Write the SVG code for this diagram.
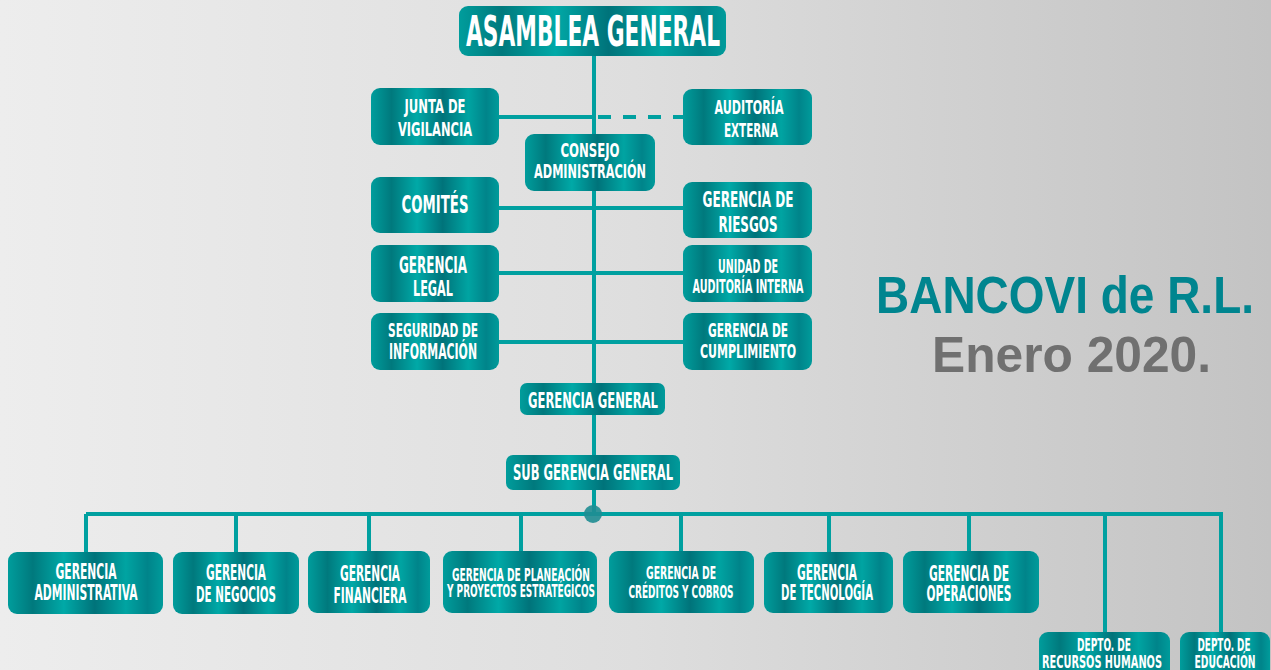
<svg xmlns="http://www.w3.org/2000/svg" width="1271" height="670" viewBox="0 0 1271 670">
<defs>
<linearGradient id="bg" x1="0" y1="0" x2="1" y2="0">
<stop offset="0" stop-color="#ededed"/><stop offset="0.5" stop-color="#dedede"/><stop offset="1" stop-color="#c3c3c3"/>
</linearGradient>
<linearGradient id="metal" x1="0" y1="0" x2="1" y2="0">
<stop offset="0" stop-color="#009d9c"/><stop offset="0.16" stop-color="#00797d"/><stop offset="0.36" stop-color="#00a9a7"/><stop offset="0.56" stop-color="#00737a"/><stop offset="0.76" stop-color="#00a4a2"/><stop offset="0.9" stop-color="#00848a"/><stop offset="1" stop-color="#009b9b"/>
</linearGradient>
<style>
.box{fill:url(#metal);}
.t{fill:#ffffff;font-family:"DejaVu Sans Condensed","Liberation Sans",sans-serif;font-weight:bold;text-anchor:middle;}
.ln{stroke:#00a0a0;stroke-width:4;fill:none;}
</style>
</defs>
<rect width="1271" height="670" fill="url(#bg)"/>

<g id="connectors">
<path class="ln" d="M594 56 V455 M594 490 V514"/>
<path class="ln" d="M499 117 H594"/>
<path class="ln" d="M598 117 H683" stroke-dasharray="13 12"/>
<path class="ln" d="M499 208 H683 M499 273 H683 M499 342 H683"/>
<path class="ln" d="M86 514 H1223"/>
<path class="ln" d="M86 514 V552 M236 514 V552 M369 514 V551 M521 514 V551 M681 514 V551 M829 514 V552 M969 514 V551 M1105 514 V632 M1221 514 V632"/>
<circle cx="593" cy="514" r="9" fill="#1f8d92" opacity="0.9"/>
</g>

<g id="asamblea"><rect class="box" x="459" y="6" width="267" height="50" rx="9"/><text class="t" transform="translate(593 46) scale(1 1.74)" font-size="24.1" textLength="254" lengthAdjust="spacingAndGlyphs">ASAMBLEA GENERAL</text></g>

<g id="junta"><rect class="box" x="371" y="88" width="128" height="57" rx="9"/><text class="t" transform="translate(435 113) scale(1 1.57)" font-size="12.7" textLength="61" lengthAdjust="spacingAndGlyphs">JUNTA DE</text><text class="t" transform="translate(435 136) scale(1 1.57)" font-size="12.7" textLength="74" lengthAdjust="spacingAndGlyphs">VIGILANCIA</text></g>

<g id="auditoria-externa"><rect class="box" x="683" y="89" width="129" height="56" rx="9"/><text class="t" transform="translate(749 114) scale(1 1.64)" font-size="12.2" textLength="69" lengthAdjust="spacingAndGlyphs">AUDITORÍA</text><text class="t" transform="translate(751 137) scale(1 1.74)" font-size="11.5" textLength="54" lengthAdjust="spacingAndGlyphs">EXTERNA</text></g>

<g id="consejo"><rect class="box" x="525" y="134" width="130" height="57" rx="9"/><text class="t" transform="translate(590 157) scale(1 1.55)" font-size="12.9" textLength="59" lengthAdjust="spacingAndGlyphs">CONSEJO</text><text class="t" transform="translate(590 178) scale(1 1.75)" font-size="11.4" textLength="112" lengthAdjust="spacingAndGlyphs">ADMINISTRACIÓN</text></g>

<g id="comites"><rect class="box" x="371" y="177" width="128" height="56" rx="9"/><text class="t" transform="translate(435 213) scale(1 1.7)" font-size="14.7" textLength="67" lengthAdjust="spacingAndGlyphs">COMITÉS</text></g>

<g id="riesgos"><rect class="box" x="683" y="182" width="129" height="56" rx="9"/><text class="t" transform="translate(748 207) scale(1 1.57)" font-size="13.4" textLength="91" lengthAdjust="spacingAndGlyphs">GERENCIA DE</text><text class="t" transform="translate(748 232) scale(1 1.67)" font-size="13.2" textLength="59" lengthAdjust="spacingAndGlyphs">RIESGOS</text></g>

<g id="legal"><rect class="box" x="371" y="245" width="128" height="57" rx="9"/><text class="t" transform="translate(433 273) scale(1 1.73)" font-size="13.3" textLength="68" lengthAdjust="spacingAndGlyphs">GERENCIA</text><text class="t" transform="translate(433 296) scale(1 1.76)" font-size="12.5" textLength="40" lengthAdjust="spacingAndGlyphs">LEGAL</text></g>

<g id="auditoria-interna"><rect class="box" x="683" y="245" width="129" height="57" rx="9"/><text class="t" transform="translate(748 273) scale(1 1.79)" font-size="10.6" textLength="60" lengthAdjust="spacingAndGlyphs">UNIDAD DE</text><text class="t" transform="translate(748 293) scale(1 1.79)" font-size="10.6" textLength="111" lengthAdjust="spacingAndGlyphs">AUDITORÍA INTERNA</text></g>

<g id="seguridad"><rect class="box" x="371" y="313" width="128" height="57" rx="9"/><text class="t" transform="translate(433 337) scale(1 1.61)" font-size="11.8" textLength="90" lengthAdjust="spacingAndGlyphs">SEGURIDAD DE</text><text class="t" transform="translate(433 359) scale(1 1.72)" font-size="12.2" textLength="88" lengthAdjust="spacingAndGlyphs">INFORMACIÓN</text></g>

<g id="cumplimiento"><rect class="box" x="683" y="313" width="129" height="57" rx="9"/><text class="t" transform="translate(748 337) scale(1 1.61)" font-size="11.8" textLength="80" lengthAdjust="spacingAndGlyphs">GERENCIA DE</text><text class="t" transform="translate(748 358) scale(1 1.64)" font-size="12.2" textLength="96" lengthAdjust="spacingAndGlyphs">CUMPLIMIENTO</text></g>

<g id="gerencia-general"><rect class="box" x="520" y="383" width="145" height="32" rx="7"/><text class="t" transform="translate(593 408) scale(1 1.64)" font-size="12.8" textLength="130" lengthAdjust="spacingAndGlyphs">GERENCIA GENERAL</text></g>

<g id="sub-gerencia"><rect class="box" x="506" y="455" width="174" height="35" rx="7"/><text class="t" transform="translate(593 480) scale(1 1.64)" font-size="12.8" textLength="160" lengthAdjust="spacingAndGlyphs">SUB GERENCIA GENERAL</text></g>

<g id="administrativa"><rect class="box" x="8" y="552" width="155" height="62" rx="9"/><text class="t" transform="translate(86 579) scale(1 1.76)" font-size="11.9" textLength="61" lengthAdjust="spacingAndGlyphs">GERENCIA</text><text class="t" transform="translate(86 600) scale(1 1.91)" font-size="11" textLength="103" lengthAdjust="spacingAndGlyphs">ADMINISTRATIVA</text></g>

<g id="negocios"><rect class="box" x="173" y="552" width="126" height="62" rx="9"/><text class="t" transform="translate(236 580) scale(1 1.79)" font-size="11.7" textLength="60" lengthAdjust="spacingAndGlyphs">GERENCIA</text><text class="t" transform="translate(236 602) scale(1 1.83)" font-size="11.5" textLength="80" lengthAdjust="spacingAndGlyphs">DE NEGOCIOS</text></g>

<g id="financiera"><rect class="box" x="308" y="551" width="122" height="62" rx="9"/><text class="t" transform="translate(370 581) scale(1 1.79)" font-size="11.7" textLength="60" lengthAdjust="spacingAndGlyphs">GERENCIA</text><text class="t" transform="translate(370 603) scale(1 1.83)" font-size="12" textLength="73" lengthAdjust="spacingAndGlyphs">FINANCIERA</text></g>

<g id="planeacion"><rect class="box" x="443" y="551" width="154" height="62" rx="9"/><text class="t" transform="translate(521 581) scale(1 1.78)" font-size="10.1" textLength="138" lengthAdjust="spacingAndGlyphs">GERENCIA DE PLANEACIÓN</text><text class="t" transform="translate(521 597) scale(1 1.73)" font-size="9.8" textLength="148" lengthAdjust="spacingAndGlyphs">Y PROYECTOS ESTRATÉGICOS</text></g>

<g id="creditos"><rect class="box" x="609" y="551" width="145" height="62" rx="9"/><text class="t" transform="translate(681 579) scale(1 1.65)" font-size="10.3" textLength="70" lengthAdjust="spacingAndGlyphs">GERENCIA DE</text><text class="t" transform="translate(681 598) scale(1 1.82)" font-size="9.9" textLength="105" lengthAdjust="spacingAndGlyphs">CRÉDITOS Y COBROS</text></g>

<g id="tecnologia"><rect class="box" x="764" y="552" width="129" height="61" rx="9"/><text class="t" transform="translate(827 580) scale(1 1.79)" font-size="11.7" textLength="60" lengthAdjust="spacingAndGlyphs">GERENCIA</text><text class="t" transform="translate(827 600) scale(1 1.88)" font-size="11.2" textLength="92" lengthAdjust="spacingAndGlyphs">DE TECNOLOGÍA</text></g>

<g id="operaciones"><rect class="box" x="903" y="551" width="136" height="62" rx="9"/><text class="t" transform="translate(969 581) scale(1 1.78)" font-size="11.8" textLength="80" lengthAdjust="spacingAndGlyphs">GERENCIA DE</text><text class="t" transform="translate(969 601) scale(1 1.81)" font-size="11.6" textLength="85" lengthAdjust="spacingAndGlyphs">OPERACIONES</text></g>

<g id="rrhh"><rect class="box" x="1039" y="632" width="131" height="50" rx="9"/><text class="t" transform="translate(1104 651) scale(1 1.8)" font-size="10" textLength="54" lengthAdjust="spacingAndGlyphs">DEPTO. DE</text><text class="t" transform="translate(1102 668) scale(1 1.65)" font-size="10.9" textLength="120" lengthAdjust="spacingAndGlyphs">RECURSOS HUMANOS</text></g>

<g id="educacion"><rect class="box" x="1180" y="632" width="90" height="50" rx="9"/><text class="t" transform="translate(1224 651) scale(1 1.84)" font-size="9.8" textLength="53" lengthAdjust="spacingAndGlyphs">DEPTO. DE</text><text class="t" transform="translate(1225 668) scale(1 1.76)" font-size="10.2" textLength="61" lengthAdjust="spacingAndGlyphs">EDUCACIÓN</text></g>

<g id="titulo">
<text transform="translate(876 313) scale(1 1.13)" font-family="'Liberation Sans',Arial,sans-serif" font-weight="bold" font-size="46" fill="#00858f" textLength="378" lengthAdjust="spacingAndGlyphs">BANCOVI de R.L.</text>
<text x="932" y="372" font-family="'Liberation Sans',Arial,sans-serif" font-weight="bold" font-size="50" fill="#707070" textLength="279" lengthAdjust="spacingAndGlyphs">Enero 2020.</text>
</g>
</svg>
